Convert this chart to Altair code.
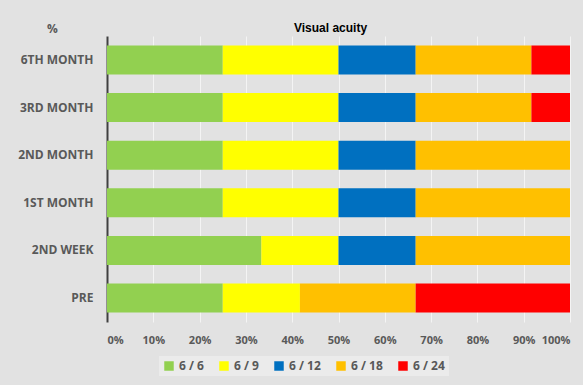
import altair as alt
import pandas as pd

categories = ["6TH  MONTH", "3RD  MONTH", "2ND  MONTH", "1ST  MONTH", "2ND  WEEK", "PRE"]
series = ["6 / 6", "6 / 9", "6 / 12", "6 / 18", "6 / 24"]
colors = ["#92D050", "#FFFF00", "#0070C0", "#FFC000", "#FF0000"]
values = {
    "6 / 6":  [3, 3, 3, 3, 4, 3],
    "6 / 9":  [3, 3, 3, 3, 2, 2],
    "6 / 12": [2, 2, 2, 2, 2, 0],
    "6 / 18": [3, 3, 4, 4, 4, 3],
    "6 / 24": [1, 1, 0, 0, 0, 4],
}

rows = []
for si, s in enumerate(series):
    for ci, c in enumerate(categories):
        rows.append({"period": c, "acuity": s, "count": values[s][ci], "order": si})
df = pd.DataFrame(rows)

font = "Open Sans"
gray = "#595959"

chart = alt.Chart(df).mark_bar(size=29).encode(
    y=alt.Y("period:N", sort=categories,
            scale=alt.Scale(paddingInner=0.39, paddingOuter=0.2),
            axis=alt.Axis(title="%", titleAngle=0, titleX=-55, titleY=-1,
                          titleAlign="center", titleFontSize=12, titleFont=font,
                          titleColor=gray, titleFontWeight="bold",
                          labelFont=font, labelFontSize=12, labelColor=gray,
                          labelFontWeight="bold", labelPadding=14,
                          ticks=False, domainColor="#404040", domainWidth=2,
                          grid=False)),
    x=alt.X("count:Q", stack="normalize",
            scale=alt.Scale(domain=[0, 1]),
            axis=alt.Axis(title=None, format=".0%", values=[i / 10 for i in range(11)],
                          labelFont=font, labelFontSize=11, labelColor=gray,
                          labelFontWeight="bold", labelPadding=12,
                          ticks=False, domain=False, grid=True,
                          gridColor="#f4f4f4", gridWidth=1)),
    color=alt.Color("acuity:N", sort=series,
                    scale=alt.Scale(domain=series, range=colors),
                    legend=alt.Legend(title=None, orient="none", direction="horizontal",
                                      legendX=52, legendY=320, symbolType="square",
                                      symbolSize=90, symbolStrokeWidth=0,
                                      labelFont=font, labelFontSize=12, labelColor=gray,
                                      labelFontWeight="bold", columnPadding=14,
                                      fillColor="#ebebeb", padding=4)),
    order=alt.Order("order:Q", sort="ascending"),
).properties(
    width=463, height=286,
    autosize=alt.AutoSizeParams(type="none"),
    padding={"left": 107, "top": 36, "right": 13, "bottom": 63},
    background="#e2e2e2",
    title=alt.TitleParams("Visual acuity", font="Liberation Sans", fontSize=12,
                          fontWeight="bold", color="#000000", anchor="middle",
                          offset=-13, dx=-8),
).configure_view(stroke=None)

chart.save("out.html", embed_options={"renderer": "svg", "actions": False})
